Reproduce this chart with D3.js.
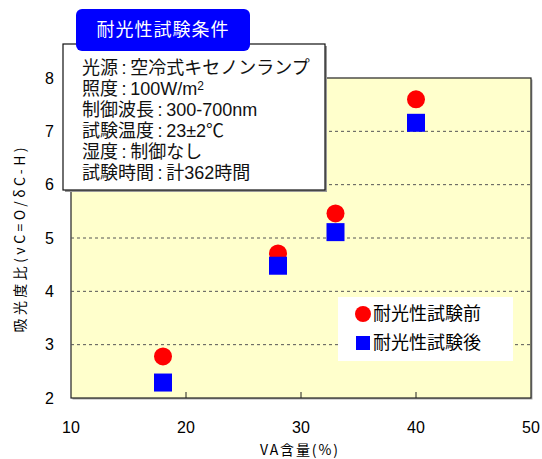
<!DOCTYPE html>
<html>
<head>
<meta charset="utf-8">
<script src="https://cdn.jsdelivr.net/npm/d3@7"></script>
<style>
  body { margin: 0; background: #fff; }
  svg text { font-family: "Liberation Sans", Arial, "Noto Sans CJK JP", sans-serif; }
</style>
</head>
<body>
<svg id="chart" width="542" height="459"></svg>
<script>
// data
var vaContent = [18, 28, 33, 40];
var beforeTest = [2.78, 4.71, 5.46, 7.6];
var afterTest = [2.29, 4.48, 5.11, 7.16];
var xTicks = [10, 20, 30, 40, 50];
var yTicks = [2, 3, 4, 5, 6, 7, 8];
var conditions = [
    "光源\u2009:\u2009空冷式キセノンランプ",
    "照度\u2009:\u2009100W/m",
    "制御波長\u2009:\u2009300-700nm",
    "試験温度\u2009:\u200923±2℃",
    "湿度\u2009:\u2009制御なし",
    "試験時間\u2009:\u2009計362時間"
];
var seriesNames = ["耐光性試験前", "耐光性試験後"];

var svg = d3.select("#chart");
var margin = { left: 71, right: 11, top: 78, bottom: 61 };
var width = 542 - margin.left - margin.right;
var height = 459 - margin.top - margin.bottom;

var x = d3.scaleLinear().domain([10, 50]).range([0, width]);
var y = d3.scaleLinear().domain([2, 8]).range([height, 0]);

var g = svg.append("g").attr("transform", "translate(" + margin.left + "," + margin.top + ")");

// plot area with a little shadow
g.append("rect").attr("x", 1.5).attr("y", 1.5).attr("width", width).attr("height", height).attr("fill", "#aaa");
g.append("rect").attr("width", width).attr("height", height)
    .attr("fill", "#ffffcc").attr("stroke", "#222").attr("stroke-width", 1.2);

// dashed grid
g.selectAll("line.grid").data(yTicks.slice(1, -1)).enter().append("line")
    .attr("class", "grid")
    .attr("x1", 0).attr("x2", width)
    .attr("y1", function (d) { return y(d); }).attr("y2", function (d) { return y(d); })
    .attr("stroke", "#555").attr("stroke-dasharray", "3,3").attr("stroke-width", 1);

// x ticks (inward) and labels
g.selectAll("line.xt").data(xTicks.slice(1, -1)).enter().append("line")
    .attr("class", "xt")
    .attr("x1", function (d) { return x(d); }).attr("x2", function (d) { return x(d); })
    .attr("y1", height).attr("y2", height - 6)
    .attr("stroke", "#222");
g.selectAll("text.xl").data(xTicks).enter().append("text")
    .attr("class", "xl")
    .attr("x", function (d) { return x(d); })
    .attr("y", height + 35)
    .attr("text-anchor", "middle")
    .attr("font-size", 16)
    .text(function (d) { return d; });

// y labels
g.selectAll("text.yl").data(yTicks).enter().append("text")
    .attr("class", "yl")
    .attr("x", -17)
    .attr("y", function (d) { return y(d); })
    .attr("dy", "0.36em")
    .attr("text-anchor", "end")
    .attr("font-size", 16)
    .text(function (d) { return d; });

// axis titles
svg.append("text")
    .attr("x", 299).attr("y", 455)
    .attr("text-anchor", "middle")
    .attr("font-size", 14)
    .attr("textLength", 78).attr("lengthAdjust", "spacing")
    .style("font-family", "'Noto Sans CJK JP', sans-serif")
    .text("VA含量(%)");
svg.append("text")
    .attr("transform", "translate(25,240) rotate(-90)")
    .attr("text-anchor", "middle")
    .attr("font-size", 14)
    .attr("textLength", 185).attr("lengthAdjust", "spacing")
    .style("font-family", "'Noto Sans CJK JP', sans-serif")
    .text("吸光度比(νC=O/δC-H)");

// points
g.selectAll("circle.before").data(vaContent).enter().append("circle")
    .attr("class", "before")
    .attr("cx", function (d) { return x(d); })
    .attr("cy", function (d, i) { return y(beforeTest[i]); })
    .attr("r", 9)
    .attr("fill", "#ff0000");
var sq = 18;
g.selectAll("rect.after").data(vaContent).enter().append("rect")
    .attr("class", "after")
    .attr("x", function (d) { return x(d) - sq / 2; })
    .attr("y", function (d, i) { return y(afterTest[i]) - sq / 2; })
    .attr("width", sq).attr("height", sq)
    .attr("fill", "#0000ff");

// legend
var lg = svg.append("g").attr("transform", "translate(338,297)");
lg.append("rect").attr("width", 175).attr("height", 64).attr("fill", "#fff");
lg.append("circle").attr("cx", 25).attr("cy", 17).attr("r", 8).attr("fill", "#ff0000");
lg.append("rect").attr("x", 18).attr("y", 39).attr("width", 14).attr("height", 14).attr("fill", "#0000ff");
lg.selectAll("text").data(seriesNames).enter().append("text")
    .attr("x", 35)
    .attr("y", function (d, i) { return 17 + i * 29; })
    .attr("dy", "0.36em")
    .attr("font-size", 18)
    .text(function (d) { return d; });

// conditions box
var box = svg.append("g").attr("transform", "translate(63,44)");
box.append("rect").attr("x", 2).attr("y", 2).attr("width", 262).attr("height", 146).attr("fill", "#999");
box.append("rect").attr("width", 262).attr("height", 146)
    .attr("fill", "#fff").attr("stroke", "#111").attr("stroke-width", 1.2);
var lines = box.selectAll("text").data(conditions).enter().append("text")
    .attr("x", 19)
    .attr("y", function (d, i) { return 24 + i * 21; })
    .attr("dy", "0.36em")
    .attr("font-size", 18)
    .attr("fill", "#111")
    .text(function (d) { return d; });
lines.filter(function (d, i) { return i === 1; }).append("tspan")
    .attr("dy", "-0.45em").attr("font-size", 12).text("2");

// title badge
var badge = svg.append("g").attr("transform", "translate(76,9)");
badge.append("rect").attr("width", 174).attr("height", 42).attr("rx", 6)
    .attr("fill", "#0000ff");
badge.append("text").attr("x", 87).attr("y", 21).attr("dy", "0.36em")
    .attr("text-anchor", "middle").attr("font-size", 18).attr("fill", "#fff")
    .attr("letter-spacing", 1)
    .text("耐光性試験条件");
</script>
</body>
</html>
